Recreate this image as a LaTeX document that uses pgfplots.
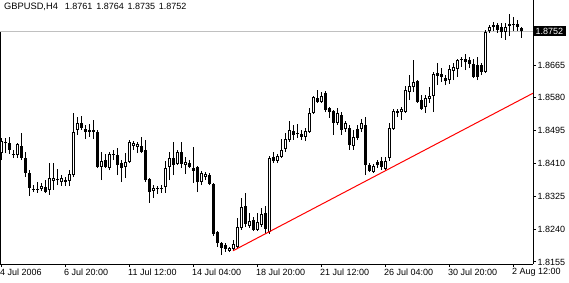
\documentclass[border=0pt]{standalone}
\usepackage{pgfplots}
\pgfplotsset{compat=1.18}
\usepackage{pgfplotstable}
\usepackage{fontspec}
\setmainfont{Liberation Sans}
\definecolor{silver}{RGB}{192,192,192}
\pgfplotstableread{
x o h l c
0 1.8437 1.8476 1.8419 1.8468
1 1.8466 1.8476 1.8437 1.8463
2 1.8463 1.8479 1.8435 1.8445
3 1.8435 1.8445 1.8424 1.8432
4 1.8432 1.8463 1.8424 1.8461
5 1.8455 1.8489 1.8419 1.8424
6 1.8424 1.8440 1.8375 1.8386
7 1.8386 1.8393 1.8326 1.8347
8 1.8344 1.8354 1.8336 1.8342
9 1.8344 1.8362 1.8334 1.8342
10 1.8344 1.8360 1.8339 1.8352
11 1.8349 1.8367 1.8334 1.8336
12 1.8342 1.8411 1.8329 1.8373
13 1.8365 1.8411 1.8342 1.8373
14 1.8370 1.8396 1.8354 1.8367
15 1.8362 1.8380 1.8352 1.8373
16 1.8367 1.8375 1.8352 1.8362
17 1.8365 1.8393 1.8352 1.8383
18 1.8380 1.8541 1.8375 1.8492
19 1.8497 1.8530 1.8484 1.8515
20 1.8515 1.8533 1.8497 1.8502
21 1.8499 1.8510 1.8473 1.8492
22 1.8497 1.8512 1.8479 1.8492
23 1.8497 1.8523 1.8473 1.8492
24 1.8492 1.8497 1.8398 1.8401
25 1.8401 1.8440 1.8367 1.8417
26 1.8419 1.8435 1.8398 1.8401
27 1.8398 1.8440 1.8393 1.8435
28 1.8435 1.8445 1.8419 1.8432
29 1.8432 1.8450 1.8380 1.8406
30 1.8411 1.8419 1.8362 1.8398
31 1.8401 1.8437 1.8373 1.8414
32 1.8414 1.8471 1.8411 1.8466
33 1.8455 1.8468 1.8445 1.8463
34 1.8453 1.8466 1.8437 1.8461
35 1.8455 1.8479 1.8437 1.8440
36 1.8445 1.8471 1.8362 1.8367
37 1.8370 1.8373 1.8308 1.8336
38 1.8339 1.8354 1.8321 1.8347
39 1.8347 1.8352 1.8331 1.8344
40 1.8344 1.8354 1.8334 1.8347
41 1.8349 1.8417 1.8334 1.8398
42 1.8401 1.8440 1.8367 1.8424
43 1.8424 1.8466 1.8380 1.8406
44 1.8409 1.8445 1.8406 1.8440
45 1.8440 1.8466 1.8398 1.8409
46 1.8406 1.8427 1.8383 1.8414
47 1.8411 1.8419 1.8398 1.8401
48 1.8398 1.8453 1.8360 1.8391
49 1.8401 1.8404 1.8336 1.8362
50 1.8362 1.8391 1.8354 1.8386
51 1.8375 1.8388 1.8367 1.8383
52 1.8380 1.8386 1.8354 1.8357
53 1.8357 1.8360 1.8222 1.8228
54 1.8233 1.8235 1.8194 1.8204
55 1.8204 1.8207 1.8173 1.8191
56 1.8199 1.8204 1.8181 1.8189
57 1.8184 1.8194 1.8181 1.8191
58 1.8189 1.8212 1.8184 1.8202
59 1.8194 1.8269 1.8191 1.8246
60 1.8243 1.8321 1.8238 1.8297
61 1.8300 1.8334 1.8246 1.8253
62 1.8248 1.8282 1.8243 1.8261
63 1.8264 1.8272 1.8235 1.8238
64 1.8238 1.8282 1.8235 1.8259
65 1.8251 1.8295 1.8246 1.8279
66 1.8282 1.8300 1.8228 1.8241
67 1.8233 1.8429 1.8228 1.8424
68 1.8427 1.8440 1.8411 1.8417
69 1.8417 1.8435 1.8411 1.8429
70 1.8427 1.8473 1.8424 1.8445
71 1.8448 1.8489 1.8440 1.8473
72 1.8471 1.8520 1.8466 1.8497
73 1.8494 1.8510 1.8471 1.8484
74 1.8489 1.8512 1.8476 1.8486
75 1.8486 1.8497 1.8471 1.8479
76 1.8479 1.8502 1.8468 1.8494
77 1.8492 1.8554 1.8489 1.8541
78 1.8541 1.8585 1.8538 1.8582
79 1.8580 1.8600 1.8567 1.8569
80 1.8569 1.8595 1.8567 1.8585
81 1.8593 1.8598 1.8543 1.8549
82 1.8554 1.8556 1.8528 1.8543
83 1.8546 1.8549 1.8484 1.8515
84 1.8515 1.8554 1.8510 1.8541
85 1.8536 1.8543 1.8484 1.8497
86 1.8499 1.8520 1.8492 1.8515
87 1.8502 1.8510 1.8445 1.8458
88 1.8455 1.8497 1.8445 1.8479
89 1.8499 1.8510 1.8471 1.8476
90 1.8499 1.8525 1.8492 1.8515
91 1.8510 1.8530 1.8380 1.8406
92 1.8406 1.8411 1.8388 1.8391
93 1.8388 1.8409 1.8386 1.8404
94 1.8414 1.8419 1.8398 1.8406
95 1.8417 1.8427 1.8393 1.8401
96 1.8396 1.8427 1.8393 1.8417
97 1.8424 1.8515 1.8417 1.8502
98 1.8499 1.8551 1.8497 1.8546
99 1.8546 1.8551 1.8530 1.8541
100 1.8543 1.8556 1.8523 1.8551
101 1.8543 1.8611 1.8541 1.8600
102 1.8595 1.8639 1.8574 1.8611
103 1.8608 1.8678 1.8595 1.8621
104 1.8624 1.8626 1.8567 1.8569
105 1.8574 1.8587 1.8549 1.8551
106 1.8556 1.8587 1.8541 1.8580
107 1.8577 1.8608 1.8567 1.8585
108 1.8585 1.8647 1.8543 1.8642
109 1.8644 1.8670 1.8613 1.8637
110 1.8642 1.8657 1.8621 1.8634
111 1.8631 1.8639 1.8613 1.8624
112 1.8626 1.8665 1.8616 1.8655
113 1.8650 1.8670 1.8626 1.8660
114 1.8655 1.8681 1.8634 1.8678
115 1.8681 1.8686 1.8660 1.8678
116 1.8681 1.8694 1.8652 1.8673
117 1.8678 1.8686 1.8657 1.8668
118 1.8668 1.8681 1.8631 1.8634
119 1.8665 1.8686 1.8626 1.8634
120 1.8665 1.8670 1.8639 1.8647
121 1.8647 1.8756 1.8644 1.8750
122 1.8753 1.8769 1.8748 1.8763
123 1.8769 1.8776 1.8753 1.8763
124 1.8769 1.8774 1.8748 1.8756
125 1.8763 1.8774 1.8735 1.8750
126 1.8750 1.8774 1.8730 1.8763
127 1.8771 1.8797 1.8740 1.8766
128 1.8771 1.8789 1.8753 1.8769
129 1.8771 1.8782 1.8753 1.8763
130 1.8761 1.8764 1.8735 1.8752
}\data
\begin{document}
\begin{tikzpicture}
\useasboundingbox (0,-19bp) rectangle (569bp,264bp);
\begin{axis}[
  at={(0,0)}, anchor=south west,
  scale only axis, width=533bp, height=264bp,
  xmin=-0.25, xmax=133, ymin=1.81498, ymax=1.88333,
  axis x line*=bottom, axis y line*=right,
  axis line style={black, line width=1bp},
  tick align=outside, major tick length=3bp,
  tick style={black, line width=1bp},
  font=\fontsize{9bp}{10bp}\selectfont,
  scaled y ticks=false, scaled x ticks=false,
  xtick={0,16,32,48,64,80,96,112,128},
  xticklabels={4 Jul 2006, 6 Jul 20:00, 11 Jul 12:00, 14 Jul 04:00, 18 Jul 20:00, 21 Jul 12:00, 26 Jul 04:00, 30 Jul 20:00, 2 Aug 12:00},
  xticklabel style={anchor=north west, inner xsep=0pt, inner ysep=1.5bp, xshift=-1bp},
  ytick={1.8155,1.8240,1.8325,1.8410,1.8495,1.8580,1.8665},
  yticklabels={1.8155,1.8240,1.8325,1.8410,1.8495,1.8580,1.8665},
  yticklabel style={anchor=west, inner xsep=1.5bp},
  extra y ticks={1.8752},
  extra y tick labels={1.8752},
  extra y tick style={grid=major, major grid style={silver, line width=1bp}, major tick length=0pt,
    yticklabel style={fill=black, text=white, inner xsep=2.5bp, inner ysep=1.8bp}},
]
\addplot[draw=none, mark=none, forget plot, error bars/.cd, y dir=plus, y explicit, error mark=none,
  error bar style={draw=black, solid, line width=1bp}]
  table[x=x, y=l, y error expr=\thisrow{h}-\thisrow{l}] {\data};
\addplot[draw=none, mark=none, forget plot, error bars/.cd, y dir=plus, y explicit, error mark=none,
  error bar style={draw=black, solid, line width=3bp}]
  table[x=x, y expr={min(\thisrow{o},\thisrow{c})}, y error expr={abs(\thisrow{c}-\thisrow{o})}] {\data};
\addplot[draw=none, mark=none, forget plot, error bars/.cd, y dir=plus, y explicit, error mark=none,
  error bar style={draw=white, solid, line width=1bp}]
  table[x=x, y expr={\thisrow{o}+0.00026}, y error expr={max(\thisrow{c}-\thisrow{o}-0.00052,0)}] {\data};
\addplot[red, line width=1bp, forget plot] coordinates {(58,1.8184) (133,1.8592)};
\draw[black, line width=1bp] ([xshift=0.5bp]rel axis cs:0,0) -- ([xshift=0.5bp]rel axis cs:0,0.879);
\node[anchor=north west, inner sep=0pt, xshift=4bp, yshift=-3.3bp] at (rel axis cs:0,1)
  {{\fontsize{9.3bp}{10bp}\selectfont GBPUSD,H4}\hspace{7bp}1.8761\hspace{3.8bp}1.8764\hspace{3.8bp}1.8735\hspace{3.8bp}1.8752};
\end{axis}
\end{tikzpicture}
\end{document}
